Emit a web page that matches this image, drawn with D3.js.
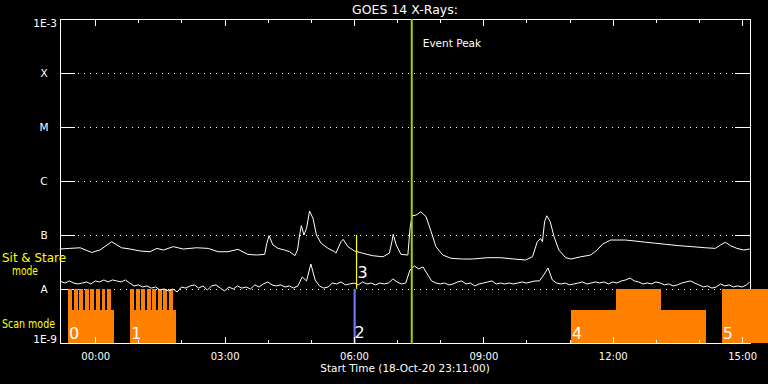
<!DOCTYPE html>
<html>
<head>
<meta charset="utf-8">
<script src="https://cdn.jsdelivr.net/npm/d3@7"></script>
<style>
body { margin: 0; background: #000; }
svg { display: block; }
text { font-family: "DejaVu Sans", sans-serif; fill: #fff; }
</style>
</head>
<body>
<div class="goes"></div>
<script>
// times are hours relative to 19-Oct-20 00:00 UT, plot starts 18-Oct-20 23:11
var startHour = -49 / 60;
var endHour = startHour + 16;

// GOES 14 long channel (1-8 A), W/m^2
var longTimes = [-0.82, -0.59, -0.35, -0.08, 0.11, 0.38, 0.61, 0.81, 1.04, 1.27, 1.43, 1.58, 1.81, 2.04, 2.35,
    2.62, 2.85, 3.08, 3.31, 3.54, 3.74, 3.93, 3.97, 4.03, 4.12, 4.24, 4.39, 4.51, 4.63, 4.69, 4.74, 4.78, 4.84,
    4.90, 4.97, 5.05, 5.13, 5.24, 5.40, 5.55, 5.58, 5.70, 5.75, 5.86, 6.01, 6.20, 6.43, 6.67, 6.82, 6.88, 6.91,
    6.98, 7.09, 7.25, 7.30, 7.35, 7.44, 7.55, 7.67, 7.79, 7.90, 8.06, 8.25, 8.52, 8.75, 9.09, 9.40, 9.71, 9.98,
    10.14, 10.25, 10.33, 10.37, 10.42, 10.47, 10.55, 10.64, 10.75, 10.91, 11.03, 11.26, 11.49, 11.64, 11.76, 11.95,
    12.29, 12.52, 12.76, 12.99, 13.22, 13.53, 13.84, 14.15, 14.38, 14.50, 14.61, 14.73, 14.88, 15.04, 15.18];
var longFlux = [5.50e-8, 5.65e-8, 5.80e-8, 4.75e-8, 5.27e-8, 7.50e-8, 5.80e-8, 5.50e-8, 5.06e-8, 4.90e-8, 5.65e-8,
    5.27e-8, 6.08e-8, 5.50e-8, 5.80e-8, 5.65e-8, 4.90e-8, 4.90e-8, 5.43e-8, 4.38e-8, 4.26e-8, 4.38e-8, 6.53e-8,
    9.70e-8, 6.53e-8, 5.65e-8, 5.27e-8, 4.90e-8, 4.14e-8, 5.27e-8, 1.00e-7, 1.49e-7, 1.00e-7, 1.33e-7, 2.78e-7,
    2.03e-7, 1.00e-7, 7.00e-8, 5.65e-8, 4.90e-8, 4.60e-8, 7.50e-8, 8.30e-8, 6.08e-8, 5.06e-8, 4.60e-8, 4.14e-8,
    3.95e-8, 4.60e-8, 7.50e-8, 1.03e-7, 6.53e-8, 4.38e-8, 4.26e-8, 1.33e-7, 2.27e-7, 2.34e-7, 2.69e-7, 2.19e-7,
    1.15e-7, 6.08e-8, 4.26e-8, 3.70e-8, 3.59e-8, 3.59e-8, 3.80e-8, 3.80e-8, 3.59e-8, 3.44e-8, 3.95e-8, 7.50e-8,
    8.60e-8, 7.50e-8, 1.76e-7, 2.27e-7, 1.76e-7, 9.30e-8, 5.27e-8, 3.80e-8, 3.59e-8, 3.95e-8, 4.26e-8, 5.27e-8,
    6.73e-8, 8.07e-8, 8.07e-8, 7.74e-8, 7.35e-8, 7.05e-8, 6.73e-8, 6.35e-8, 6.08e-8, 5.80e-8, 5.65e-8, 6.53e-8,
    7.35e-8, 6.35e-8, 5.65e-8, 5.27e-8, 5.50e-8];

// GOES 14 short channel (0.5-4 A), in units of 1e-8 W/m^2
var shortUnit = 1e-8;
var shortTimes = [-0.8, -0.7, -0.6, -0.5, -0.4, -0.3, -0.2, -0.1, 0.0, 0.1, 0.2, 0.3, 0.4, 0.5, 0.6, 0.7, 0.8, 0.9,
    1.0, 1.1, 1.2, 1.3, 1.4, 1.5, 1.6, 1.7, 1.8, 1.9, 2.0, 2.1, 2.2, 2.3, 2.4, 2.5, 2.6, 2.7, 2.8, 2.9,
    3.0, 3.1, 3.2, 3.3, 3.4, 3.5, 3.6, 3.7, 3.8, 3.9, 4.0, 4.1, 4.2, 4.3, 4.4, 4.5, 4.6, 4.7, 4.8, 4.9,
    5.0, 5.1, 5.2, 5.3, 5.4, 5.5, 5.6, 5.7, 5.8, 5.9, 6.0, 6.1, 6.2, 6.3, 6.4, 6.5, 6.6, 6.7, 6.8, 6.9,
    7.0, 7.1, 7.2, 7.3, 7.4, 7.5, 7.6, 7.7, 7.8, 7.9, 8.0, 8.1, 8.2, 8.3, 8.4, 8.5, 8.6, 8.7, 8.8, 8.9,
    9.0, 9.1, 9.2, 9.3, 9.4, 9.5, 9.6, 9.7, 9.8, 9.9, 10.0, 10.1, 10.2, 10.3, 10.4, 10.5, 10.6, 10.7, 10.8, 10.9,
    11.0, 11.1, 11.2, 11.3, 11.4, 11.5, 11.6, 11.7, 11.8, 11.9, 12.0, 12.1, 12.2, 12.3, 12.4, 12.5, 12.6, 12.7, 12.8, 12.9,
    13.0, 13.1, 13.2, 13.3, 13.4, 13.5, 13.6, 13.7, 13.8, 13.9, 14.0, 14.1, 14.2, 14.3, 14.4, 14.5, 14.6, 14.7, 14.8, 14.9,
    15.0, 15.1, 15.18];
var shortFlux = [1.38, 1.29, 1.41, 1.29, 1.24, 1.29, 1.35, 1.24, 1.41, 1.35, 1.47, 1.35, 1.47, 1.41, 1.35, 1.47, 1.29, 1.14,
    1.19, 1.09, 1.14, 1.04, 1.09, 0.96, 1.00, 0.92, 1.00, 0.88, 1.09, 1.04, 1.14, 1.19, 1.04, 1.14, 0.96, 1.14, 1.19, 1.04,
    0.92, 1.09, 1.00, 1.14, 1.04, 1.09, 1.00, 1.19, 1.09, 1.24, 1.35, 1.19, 1.14, 1.19, 1.09, 1.14, 1.04, 1.14, 1.67, 1.41,
    2.91, 1.47, 1.14, 1.04, 1.09, 1.29, 1.24, 1.35, 1.19, 1.24, 1.29, 1.19, 1.35, 1.24, 1.29, 1.19, 1.29, 1.24, 1.29, 1.53,
    1.35, 1.24, 1.29, 2.25, 2.67, 2.35, 2.56, 1.90, 1.41, 1.29, 1.24, 1.29, 1.19, 1.24, 1.35, 1.41, 1.24, 1.29, 1.14, 1.24,
    1.29, 1.35, 1.41, 1.24, 1.29, 1.24, 1.29, 1.24, 1.29, 1.35, 1.29, 1.35, 1.41, 1.41, 1.82, 2.45, 1.47, 1.29, 1.24, 1.29,
    1.19, 1.24, 1.29, 1.35, 1.24, 1.29, 1.35, 1.29, 1.35, 1.24, 1.35, 1.29, 1.41, 1.47, 1.60, 1.41, 1.35, 1.24, 1.29, 1.24,
    1.35, 1.29, 1.19, 1.24, 1.14, 1.19, 1.29, 1.35, 1.41, 1.29, 1.19, 1.09, 1.14, 1.04, 1.09, 1.24, 1.14, 1.19, 1.09, 1.14,
    1.09, 1.19, 1.35];

// flare classes on the y axis
var levelFlux = [1e-9, 1e-8, 1e-7, 1e-6, 1e-5, 1e-4, 1e-3];
var levelNames = ["1E-9", "A", "B", "C", "M", "X", "1E-3"];

// time axis
var majorHours = [0, 3, 6, 9, 12, 15];
var majorLabels = ["00:00", "03:00", "06:00", "09:00", "12:00", "15:00"];
var minorHours = [1, 2, 4, 5, 7, 8, 10, 11, 13, 14];

// scan mode intervals (top given as flux level on the same axis)
var scanStart = [-0.63, -0.63, -0.49, -0.37, -0.24, -0.11, 0.02, 0.15, 0.28,
    0.81, 0.81, 0.95, 1.07, 1.20, 1.32, 1.46, 1.58, 1.71, 11.03, 12.08, 14.53];
var scanEnd = [0.43, -0.55, -0.41, -0.28, -0.15, -0.02, 0.10, 0.23, 0.37,
    1.87, 0.91, 1.03, 1.16, 1.29, 1.41, 1.54, 1.67, 1.80, 14.16, 13.11, 15.60];
var scanTop = [4e-9, 1e-8, 1e-8, 1e-8, 1e-8, 1e-8, 1e-8, 1e-8, 1e-8,
    4e-9, 1e-8, 1e-8, 1e-8, 1e-8, 1e-8, 1e-8, 1e-8, 1e-8, 4e-9, 1e-8, 1e-8];
var scanIds = ["0", "1", "4", "5"];
var scanIdHours = [-0.63, 0.81, 11.03, 14.53];

// sit & stare pointings
var stareBlue = {id: "2", start: 5.99, end: 6.04, top: 1e-8};
var stareYellow = {id: "3", hour: 6.06, low: 1e-8, high: 1e-7};

var eventPeakHour = 7.34;

var W = 768, H = 384;
// note: "top" is a reserved window property, so use plot* names
var plotL = 60, plotR = 750, plotT = 19, plotB = 343;

var svg = d3.select(".goes").append("svg").attr("width", W).attr("height", H)
    .style("background", "#000");

var x = d3.scaleLinear().domain([startHour, endHour]).range([plotL, plotR]);
var y = d3.scaleLog().domain([1e-9, 1e-3]).range([plotB, plotT]);

function hline(g, x1, x2, yy, color, dash) {
    var l = g.append("line").attr("x1", x1).attr("x2", x2).attr("y1", yy).attr("y2", yy)
        .attr("stroke", color).attr("stroke-width", 1).attr("shape-rendering", "crispEdges");
    if (dash) l.attr("stroke-dasharray", dash);
    return l;
}

// dotted grid at the flare classes, short solid ticks at both sides
var grid = svg.append("g");
levelFlux.slice(1, 6).forEach(function (f) {
    var yy = Math.round(y(f)) + 0.5;
    hline(grid, plotL, plotR, yy, "#fff", "1,5");
    hline(grid, plotL, plotL + 15, yy, "#fff");
    hline(grid, plotR - 15, plotR, yy, "#fff");
});

// frame
var frame = svg.append("g").attr("shape-rendering", "crispEdges");
frame.append("line").attr("x1", plotL + 0.5).attr("x2", plotL + 0.5).attr("y1", plotT).attr("y2", plotB + 1).attr("stroke", "#fff");
frame.append("line").attr("x1", plotR + 0.5).attr("x2", plotR + 0.5).attr("y1", plotT).attr("y2", plotB + 1).attr("stroke", "#fff");
frame.append("line").attr("x1", plotL).attr("x2", plotR + 1).attr("y1", plotT + 0.5).attr("y2", plotT + 0.5).attr("stroke", "#fff");
frame.append("line").attr("x1", plotL).attr("x2", plotR + 1).attr("y1", plotB + 0.5).attr("y2", plotB + 0.5).attr("stroke", "#fff");

// scan mode blocks
var scans = d3.range(scanStart.length);
svg.append("g").selectAll("rect").data(scans).enter().append("rect")
    .attr("x", function (i) { return x(scanStart[i]); })
    .attr("width", function (i) { return x(scanEnd[i]) - x(scanStart[i]); })
    .attr("y", function (i) { return y(scanTop[i]); })
    .attr("height", function (i) { return plotB - y(scanTop[i]); })
    .attr("fill", "#ff8000").attr("shape-rendering", "crispEdges");

svg.append("rect").attr("x", x(stareBlue.start)).attr("width", x(stareBlue.end) - x(stareBlue.start))
    .attr("y", y(stareBlue.top)).attr("height", plotB - y(stareBlue.top))
    .attr("fill", "#7474ff");

// time ticks (top and bottom)
function styleAxis(g) {
    g.select(".domain").remove();
    g.selectAll("line").attr("stroke", "#fff").attr("shape-rendering", "crispEdges");
    g.selectAll("text").attr("fill", "#fff").style("font-family", "\"DejaVu Sans\", sans-serif").style("font-size", "10px");
}
svg.append("g").attr("transform", "translate(0," + (plotB + 1) + ")")
    .call(d3.axisBottom(x).tickValues(majorHours).tickSize(-7).tickPadding(9)
        .tickFormat(function (d, i) { return majorLabels[i]; }))
    .call(styleAxis);
svg.append("g").attr("transform", "translate(0," + (plotB + 1) + ")")
    .call(d3.axisBottom(x).tickValues(minorHours).tickSize(-4).tickFormat(""))
    .call(styleAxis);
svg.append("g").attr("transform", "translate(0," + plotT + ")")
    .call(d3.axisTop(x).tickValues(majorHours).tickSize(-7).tickFormat(""))
    .call(styleAxis);
svg.append("g").attr("transform", "translate(0," + plotT + ")")
    .call(d3.axisTop(x).tickValues(minorHours).tickSize(-4).tickFormat(""))
    .call(styleAxis);

// light curves
var line = d3.line().x(function (d) { return x(d[0]); }).y(function (d) { return y(d[1]); });
var longData = longTimes.map(function (t, i) { return [t, longFlux[i]]; });
var shortData = shortTimes.map(function (t, i) { return [t, shortFlux[i] * shortUnit]; });
svg.append("path").datum(longData).attr("d", line).attr("fill", "none")
    .attr("stroke", "#fff").attr("stroke-width", 1);
svg.append("path").datum(shortData).attr("d", line).attr("fill", "none")
    .attr("stroke", "#fff").attr("stroke-width", 1);

// markers
svg.append("line").attr("x1", x(stareYellow.hour)).attr("x2", x(stareYellow.hour))
    .attr("y1", y(stareYellow.high)).attr("y2", y(stareYellow.low))
    .attr("stroke", "#ffff00").attr("stroke-width", 1.2);
svg.append("line").attr("x1", x(eventPeakHour)).attr("x2", x(eventPeakHour))
    .attr("y1", plotT).attr("y2", plotB + 1)
    .attr("stroke", "#a4d000").attr("stroke-width", 2);

// texts
function addText(xx, yy, s, size, anchor, color) {
    var t = svg.append("text").attr("x", xx).attr("y", yy).text(s)
        .style("font-size", size + "px").attr("text-anchor", anchor || "start");
    if (color) t.style("fill", color);
    return t;
}

addText((plotL + plotR) / 2, 14, "GOES 14 X-Rays:", 12.5, "middle");
addText((plotL + plotR) / 2, 372, "Start Time (18-Oct-20 23:11:00)", 10.5, "middle");
addText(x(eventPeakHour) + 11, 47, "Event Peak", 10.5, "start");

addText(57, plotT + 8, levelNames[6], 10.5, "end");
addText(57, plotB, levelNames[0], 10.5, "end");
for (var i = 1; i < 6; i++) {
    addText(44, y(levelFlux[i]) + 4, levelNames[i], 10.5, "middle");
}

addText(2, 262, "Sit & Stare", 11.5, "start", "#ffff00")
    .attr("textLength", 64).attr("lengthAdjust", "spacingAndGlyphs");
addText(12, 275, "mode", 11.5, "start", "#ffff00")
    .attr("textLength", 26).attr("lengthAdjust", "spacingAndGlyphs");
addText(2, 328, "Scan mode", 11.5, "start", "#ffff00")
    .attr("textLength", 53).attr("lengthAdjust", "spacingAndGlyphs");

scanIds.forEach(function (s, i) {
    addText(x(scanIdHours[i]) + 1, plotB - 4, s, 16, "start");
});
addText(x(stareBlue.start) + 1, plotB - 5, stareBlue.id, 16, "start");
addText(x(stareYellow.hour) + 1, y(stareYellow.low) - 11, stareYellow.id, 16, "start");
</script>
</body>
</html>
